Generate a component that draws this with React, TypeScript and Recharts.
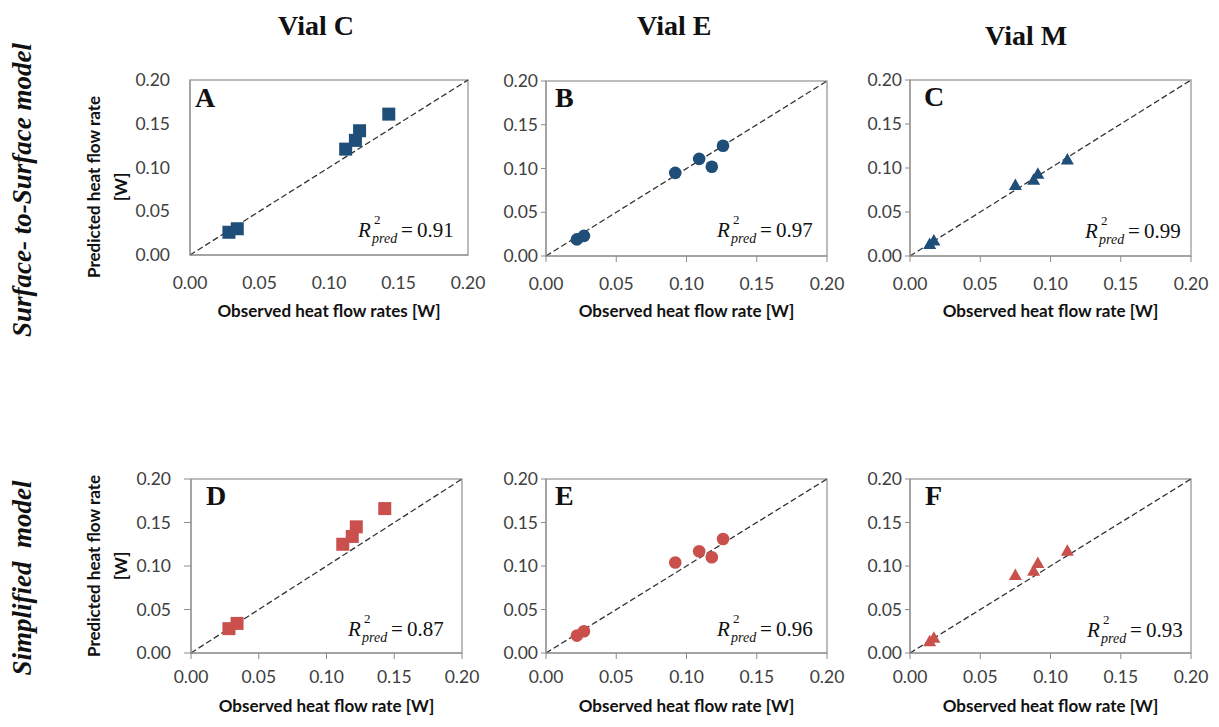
import React from 'react';
import { ScatterChart, Scatter, XAxis, YAxis, ReferenceLine, ReferenceArea } from 'recharts';

// observed vs predicted heat flow rates [W]
const VIAL_C_OBS = [0.028, 0.034, 0.112, 0.119, 0.122, 0.143];
const VIAL_C_SURF = [0.026, 0.030, 0.121, 0.131, 0.142, 0.161];
const VIAL_C_SIMP = [0.028, 0.034, 0.125, 0.134, 0.145, 0.166];

const VIAL_E_OBS = [0.022, 0.027, 0.092, 0.109, 0.118, 0.126];
const VIAL_E_SURF = [0.019, 0.023, 0.095, 0.111, 0.102, 0.126];
const VIAL_E_SIMP = [0.020, 0.025, 0.104, 0.117, 0.110, 0.131];

const VIAL_M_OBS = [0.014, 0.017, 0.075, 0.088, 0.091, 0.112];
const VIAL_M_SURF = [0.013, 0.017, 0.080, 0.086, 0.093, 0.109];
const VIAL_M_SIMP = [0.013, 0.017, 0.089, 0.094, 0.103, 0.117];

const R2_SURF = ['0.91', '0.97', '0.99'];
const R2_SIMP = ['0.87', '0.96', '0.93'];

const VIALS = ['Vial C', 'Vial E', 'Vial M'];
const ROWS = ['Surface- to-Surface model', 'Simplified  model'];
const LETTERS = ['A', 'B', 'C', 'D', 'E', 'F'];
const TICKS = [0, 0.05, 0.1, 0.15, 0.2];

const SANS = 'Lato, "Open Sans", sans-serif';
const SERIF = '"Liberation Serif", "DejaVu Serif", serif';
const BLUE = '#1F4E79';
const RED = '#C9504D';

const toPoints = (obs: number[], pred: number[]) => obs.map((x, i) => ({ x, y: pred[i] }));
const fmt = (v: number) => v.toFixed(2);

type Box = { l: number; t: number; r: number; b: number };
type Kind = 'square' | 'circle' | 'triangle';

// marker drawn at the position the scatter hands over
const marker = (kind: Kind, color: string) => (p: any) => {
  const { cx, cy } = p;
  if (kind === 'square') return <rect x={cx - 6.5} y={cy - 6.5} width={13} height={13} fill={color} />;
  if (kind === 'circle') return <circle cx={cx} cy={cy} r={6.3} fill={color} />;
  return <polygon points={`${cx},${cy - 7} ${cx + 6.5},${cy + 4.5} ${cx - 6.5},${cy + 4.5}`} fill={color} />;
};

function Panel(props: {
  box: Box;
  points: { x: number; y: number }[];
  color: string;
  kind: Kind;
  ticks: boolean;
  yTick: number;
  yGap: number;
  xTick: number;
  xGap: number;
}) {
  const { box, points, color, kind, ticks, yTick, yGap, xTick, xGap } = props;
  const YW = 60, MT = 10, MR = 25, XH = 40;
  const width = box.r - box.l + YW + MR;
  const height = box.b - box.t + MT + XH;
  const tickStyle = { fill: '#404040', fontSize: 17.5, fontFamily: SANS };
  return (
    <div style={{ position: 'absolute', left: box.l - YW, top: box.t - MT }}>
      <ScatterChart width={width} height={height} margin={{ top: MT, right: MR, left: 0, bottom: 0 }}>
        <XAxis
          type="number"
          dataKey="x"
          domain={[0, 0.2]}
          ticks={TICKS}
          interval={0}
          tickFormatter={fmt}
          height={XH}
          stroke="#8c8c8c"
          tickLine={ticks}
          tickSize={xTick}
          tickMargin={xGap}
          tick={tickStyle}
          allowDataOverflow
        />
        <YAxis
          type="number"
          dataKey="y"
          domain={[0, 0.2]}
          ticks={TICKS}
          interval={0}
          tickFormatter={fmt}
          width={YW}
          stroke="#8c8c8c"
          tickLine={ticks}
          tickSize={yTick}
          tickMargin={yGap}
          tick={tickStyle}
          allowDataOverflow
        />
        <ReferenceArea x1={0} x2={0.2} y1={0} y2={0.2} fill="none" fillOpacity={0} stroke="#a6a6a6" strokeWidth={1.5} />
        <ReferenceLine segment={[{ x: 0, y: 0 }, { x: 0.2, y: 0.2 }]} stroke="#333" strokeDasharray="6 3" strokeWidth={1.3} />
        <Scatter data={points} fill={color} shape={marker(kind, color)} isAnimationActive={false} />
      </ScatterChart>
    </div>
  );
}

function R2({ left, base, value }: { left: number; base: number; value: string }) {
  const top = base - 17;
  return (
    <div style={{ position: 'absolute', left, top, fontFamily: SERIF, fontSize: 21, lineHeight: 1, color: '#111', whiteSpace: 'nowrap' }}>
      <span style={{ position: 'absolute', left: 0, top: 0, fontStyle: 'italic' }}>R</span>
      <span style={{ position: 'absolute', left: 16, top: -7, fontSize: 13 }}>2</span>
      <span style={{ position: 'absolute', left: 14, top: 12, fontSize: 14, fontStyle: 'italic' }}>pred</span>
      <span style={{ position: 'absolute', left: 43, top: 0 }}>=&thinsp;{value}</span>
    </div>
  );
}

const abs = (left: number, top: number, extra: React.CSSProperties = {}): React.CSSProperties => ({
  position: 'absolute',
  left,
  top,
  whiteSpace: 'nowrap',
  ...extra,
});

export default function App() {
  const boxes: Box[] = [
    { l: 190, t: 80, r: 468, b: 255 },
    { l: 546, t: 81, r: 827, b: 256 },
    { l: 910, t: 80, r: 1191, b: 256 },
    { l: 191, t: 479, r: 462, b: 653 },
    { l: 546, t: 479, r: 827, b: 653 },
    { l: 910, t: 479, r: 1191, b: 653 },
  ];
  const series = [
    toPoints(VIAL_C_OBS, VIAL_C_SURF),
    toPoints(VIAL_E_OBS, VIAL_E_SURF),
    toPoints(VIAL_M_OBS, VIAL_M_SURF),
    toPoints(VIAL_C_OBS, VIAL_C_SIMP),
    toPoints(VIAL_E_OBS, VIAL_E_SIMP),
    toPoints(VIAL_M_OBS, VIAL_M_SIMP),
  ];
  const kinds: Kind[] = ['square', 'circle', 'triangle'];
  const letterPos = [
    [195, 107], [555, 107], [924, 106],
    [206, 505], [555, 505], [925, 505],
  ];
  const r2Pos = [
    [358, 237], [717, 237], [1085, 238],
    [348, 636], [717, 636], [1087, 637],
  ];
  const xTitles = [
    'Observed heat flow rates [W]', 'Observed heat flow rate [W]', 'Observed heat flow rate [W]',
    'Observed heat flow rate [W]', 'Observed heat flow rate [W]', 'Observed heat flow rate [W]',
  ];
  const titleStyle: React.CSSProperties = { fontFamily: SERIF, fontWeight: 'bold', fontSize: 28, lineHeight: 1, color: '#111' };

  return (
    <div style={{ position: 'absolute', left: 0, top: 0, width: 1219, height: 727, background: '#fff', overflow: 'hidden' }}>
      {boxes.map((box, i) => {
        const col = i % 3;
        const first = col === 0;
        return (
          <Panel
            key={i}
            box={box}
            points={series[i]}
            color={i < 3 ? BLUE : RED}
            kind={kinds[col]}
            ticks={i !== 0}
            yTick={first ? 7 : 5}
            yGap={first ? 13 : 3}
            xTick={6}
            xGap={i < 3 ? 16 : 12}
          />
        );
      })}

      {/* column titles */}
      <div style={abs(278, 12, titleStyle)}>{VIALS[0]}</div>
      <div style={abs(637, 12, titleStyle)}>{VIALS[1]}</div>
      <div style={abs(985, 22, titleStyle)}>{VIALS[2]}</div>

      {/* row titles */}
      {ROWS.map((r, i) => (
        <div
          key={r}
          style={abs(22, i === 0 ? 190 : 578, {
            transform: 'translate(-50%, -50%) rotate(-90deg)',
            fontFamily: SERIF,
            fontWeight: 'bold',
            fontStyle: 'italic',
            fontSize: 27,
            lineHeight: 1,
            color: '#111',
            whiteSpace: 'pre',
          })}
        >
          {r}
        </div>
      ))}

      {/* y-axis titles on the first column */}
      {[187, 566].map((cy) => (
        <div
          key={cy}
          style={abs(107, cy, {
            transform: 'translate(-50%, -50%) rotate(-90deg)',
            fontFamily: SANS,
            fontWeight: 'bold',
            fontSize: 17,
            lineHeight: '27px',
            textAlign: 'center',
            color: '#111',
          })}
        >
          Predicted heat flow rate
          <br />
          [W]
        </div>
      ))}

      {/* panel letters, x-axis titles, R2 notes */}
      {boxes.map((box, i) => (
        <React.Fragment key={'t' + i}>
          <div style={abs(letterPos[i][0], letterPos[i][1] - 23, titleStyle)}>{LETTERS[i]}</div>
          <div
            style={abs((box.l + box.r) / 2, i < 3 ? 310 : 705, {
              transform: 'translate(-50%, -50%)',
              fontFamily: SANS,
              fontWeight: 'bold',
              fontSize: 17,
              color: '#111',
            })}
          >
            {xTitles[i]}
          </div>
          <R2 left={r2Pos[i][0]} base={r2Pos[i][1]} value={i < 3 ? R2_SURF[i] : R2_SIMP[i - 3]} />
        </React.Fragment>
      ))}
    </div>
  );
}
